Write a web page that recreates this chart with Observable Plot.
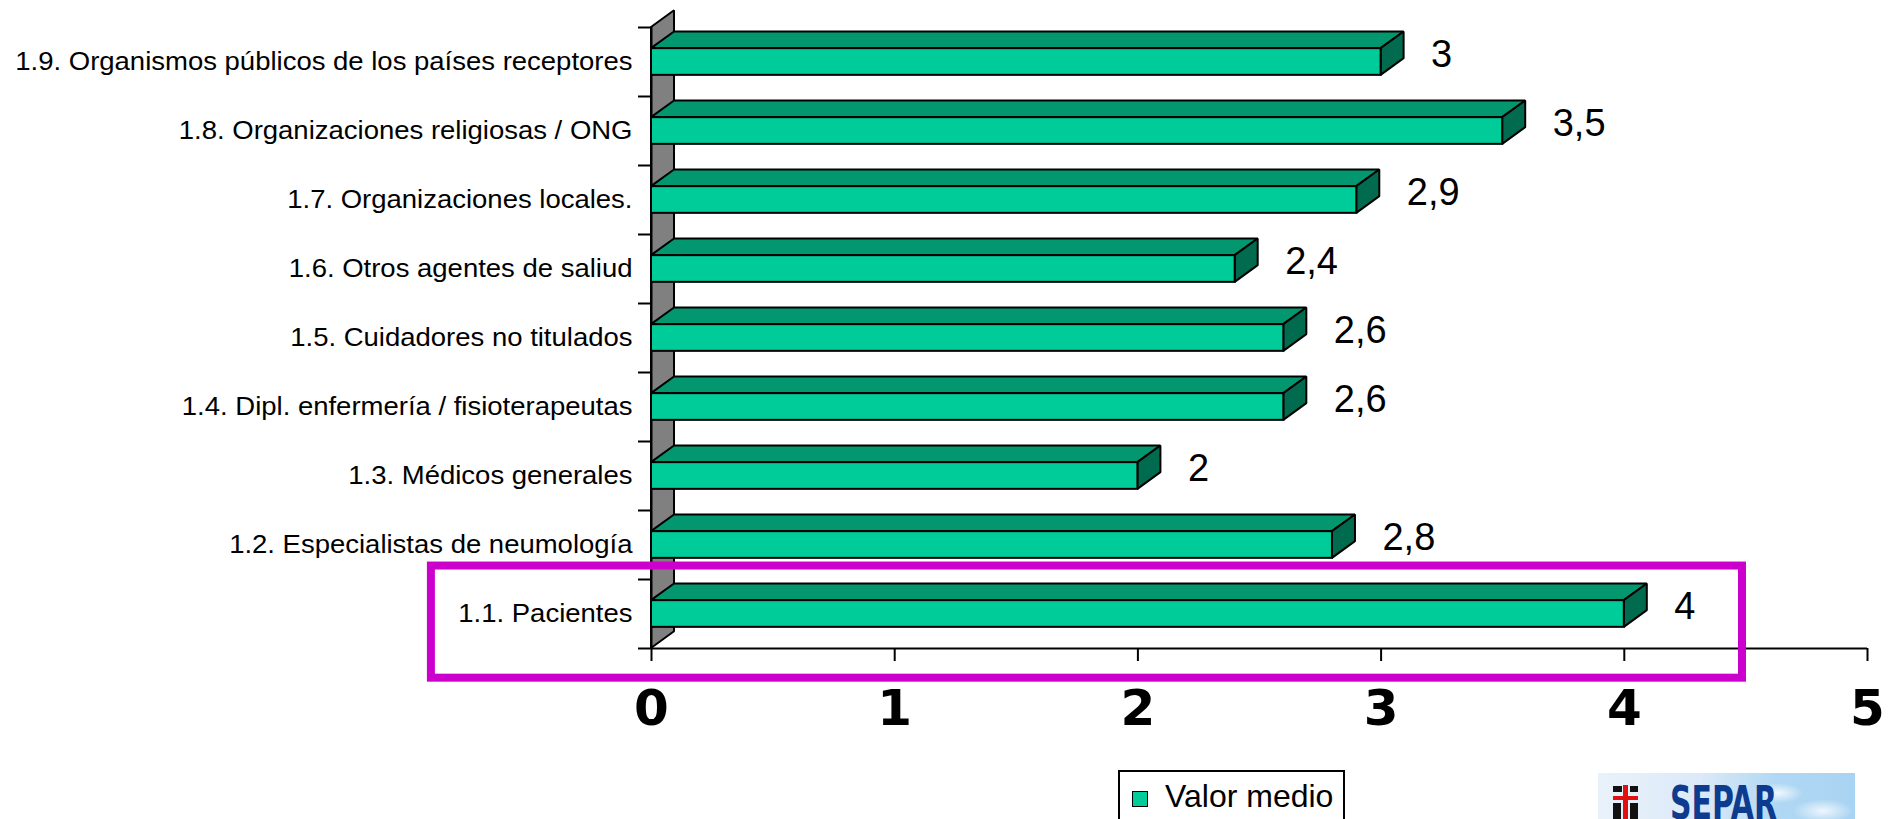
<!DOCTYPE html>
<html>
<head>
<meta charset="utf-8">
<script src="https://cdn.jsdelivr.net/npm/d3@7"></script>
<script src="https://cdn.jsdelivr.net/npm/@observablehq/plot@0.6"></script>
<style>
html, body { margin: 0; padding: 0; overflow: hidden; background: #fff; }
#wrap { position: relative; width: 1895px; height: 819px; overflow: hidden; background: #fff; }
#chart svg { display: block; }
g[aria-label^="x-axis"] text { font-family: "DejaVu Sans", Verdana, sans-serif; font-weight: bold; font-size: 50px; fill: #000; }
g[aria-label^="x-axis"] line, g[aria-label^="x-axis"] path,
g[aria-label^="y-axis"] line, g[aria-label^="y-axis"] path { stroke: #000; stroke-width: 2px; }
#legend { position: absolute; left: 1118px; top: 770px; width: 227px; height: 90px; border: 2px solid #000; box-sizing: border-box; background: #fff; }
#legend .sw { position: absolute; left: 12px; top: 19px; width: 16px; height: 16px; box-sizing: border-box; border: 1.5px solid #000; background: #00CC99; }
#legend .lt { position: absolute; left: 45px; top: 7.5px; font-family: "Liberation Sans", Arial, sans-serif; font-size: 32px; line-height: 32px; color: #000; white-space: nowrap; }
#logo { position: absolute; left: 1598px; top: 773px; }
</style>
</head>
<body>
<div id="wrap">
  <div id="chart"></div>
  <div id="legend"><span class="sw"></span><span class="lt" id="legendText"></span></div>
  <svg id="logo" width="257" height="50" viewBox="0 0 257 50">
    <defs>
      <linearGradient id="lg" x1="0" x2="1" y1="0" y2="0">
        <stop offset="0" stop-color="#e9f2fb"/>
        <stop offset="0.4" stop-color="#dbe9f8"/>
        <stop offset="0.7" stop-color="#b0d8f4"/>
        <stop offset="1" stop-color="#a9d3f2"/>
      </linearGradient>
      <radialGradient id="cl" cx="0.5" cy="0.5" r="0.5">
        <stop offset="0" stop-color="#ffffff" stop-opacity="0.8"/>
        <stop offset="1" stop-color="#ffffff" stop-opacity="0"/>
      </radialGradient>
    </defs>
    <rect x="0" y="0" width="257" height="50" fill="url(#lg)"/>
    <ellipse cx="225" cy="38" rx="30" ry="12" fill="url(#cl)"/>
    <ellipse cx="180" cy="20" rx="25" ry="10" fill="url(#cl)"/>
    <rect x="15" y="13" width="9" height="6" fill="#111"/>
    <rect x="32" y="13" width="8" height="6" fill="#111"/>
    <rect x="15" y="23" width="25" height="4" fill="#e01010"/>
    <rect x="25" y="12" width="5" height="38" fill="#e01010"/>
    <rect x="15" y="30" width="8" height="16" fill="#111"/>
    <rect x="32" y="30" width="8" height="16" fill="#111"/>
    <text id="logoText" x="72" y="46" textLength="107" lengthAdjust="spacingAndGlyphs"
      font-family="'Liberation Sans Narrow','DejaVu Sans Condensed','Liberation Sans',Arial,sans-serif"
      font-weight="bold" font-size="47" fill="#0d3b8f">SEPAR</text>
  </svg>
</div>
<script>
// ---- Data ----
const categories = [
  "1.1. Pacientes",
  "1.2. Especialistas de neumología",
  "1.3. Médicos generales",
  "1.4. Dipl. enfermería / fisioterapeutas",
  "1.5. Cuidadores no titulados",
  "1.6. Otros agentes de saliud",
  "1.7. Organizaciones locales.",
  "1.8. Organizaciones religiosas / ONG",
  "1.9. Organismos públicos de los países receptores"
];
const values = [4, 2.8, 2, 2.6, 2.6, 2.4, 2.9, 3.5, 3];
const xTicks = [0, 1, 2, 3, 4, 5];
const seriesName = "Valor medio";
const highlighted = "1.1. Pacientes";

// ---- Styling / 3D geometry (in scale units) ----
const frontColor = "#00CC99", topColor = "#02976F", sideColor = "#006B4F", wallColor = "#808080";
const half = 0.1935;     // half thickness of the bar front face (band units)
const depthX = 0.0946;   // 3D depth offset along x (value units)
const depthY = 0.242;    // 3D depth offset along y (band units)
const fmt = v => String(v).replace(".", ",");

const rows = categories.map((cat, i) => ({cat, i, value: values[i]}));
const n = categories.length;

const wall = [
  {x: 0, y1: 0, y2: n},
  {x: depthX, y1: depthY, y2: n + depthY}
];
const topFaces = rows.flatMap(d => [
  {cat: d.cat, y: d.i + 0.5 + half, x1: 0, x2: d.value},
  {cat: d.cat, y: d.i + 0.5 + half + depthY, x1: depthX, x2: d.value + depthX}
]);
const sideFaces = rows.flatMap(d => [
  {cat: d.cat, x: d.value, y1: d.i + 0.5 - half, y2: d.i + 0.5 + half},
  {cat: d.cat, x: d.value + depthX, y1: d.i + 0.5 - half + depthY, y2: d.i + 0.5 + half + depthY}
]);

const plot = Plot.plot({
  width: 1895,
  height: 740,
  marginLeft: 651,
  marginRight: 28,
  marginTop: 27,
  marginBottom: 92,
  style: {background: "#fff", color: "#000", fontFamily: "'Liberation Sans', Arial, sans-serif"},
  x: {domain: [0, 5], ticks: xTicks, tickSize: 13, tickPadding: 28, tickFormat: d => String(d), label: null},
  y: {domain: [0, n], ticks: d3.range(n + 1), tickSize: 13, tickFormat: () => "", label: null},
  marks: [
    Plot.areaY(wall, {x: "x", y1: "y1", y2: "y2", fill: wallColor, stroke: "#000", strokeWidth: 2, strokeLinejoin: "miter"}),
    Plot.ruleY([0], {stroke: "#000", strokeWidth: 2}),
    Plot.ruleX([0], {stroke: "#000", strokeWidth: 2}),
    Plot.areaX(topFaces, {y: "y", x1: "x1", x2: "x2", z: "cat", fill: topColor, stroke: "#000", strokeWidth: 2, strokeLinejoin: "miter"}),
    Plot.areaY(sideFaces, {x: "x", y1: "y1", y2: "y2", z: "cat", fill: sideColor, stroke: "#000", strokeWidth: 2, strokeLinejoin: "miter"}),
    Plot.rect(rows, {x1: d => 0, x2: "value", y1: d => d.i + 0.5 - half, y2: d => d.i + 0.5 + half, fill: frontColor, stroke: "#000", strokeWidth: 2}),
    Plot.text(rows, {x: d => 0, y: d => d.i + 0.5, text: "cat", textAnchor: "end", dx: -19, fontSize: 25, fill: "#000",
      fontFamily: "'Liberation Sans', Arial, sans-serif"}),
    Plot.text(rows, {x: "value", y: d => d.i + 0.5, text: d => fmt(d.value), textAnchor: "start", dx: 50, dy: -7, fontSize: 38, fill: "#000",
      fontFamily: "'Liberation Sans', Arial, sans-serif"}),
    Plot.rect(rows.filter(d => d.cat === highlighted), {x1: d => -0.905, x2: d => d.value + 0.486, y1: d => d.i - 0.43, y2: d => d.i + 1.195,
      fill: "none", stroke: "#CC00CC", strokeWidth: 8})
  ]
});

// Category labels are horizontally stretched in the original
const catSet = new Set(categories);
plot.querySelectorAll("text").forEach(t => {
  if (!catSet.has(t.textContent)) return;
  let tr = t.getAttribute("transform");
  if (!tr) {
    const x = t.getAttribute("x") || 0, y = t.getAttribute("y") || 0;
    t.removeAttribute("x"); t.removeAttribute("y");
    tr = `translate(${x},${y})`;
  }
  t.setAttribute("transform", tr + " scale(1.1,1)");
});

document.getElementById("chart").appendChild(plot);
document.getElementById("legendText").textContent = seriesName;
</script>
</body>
</html>
